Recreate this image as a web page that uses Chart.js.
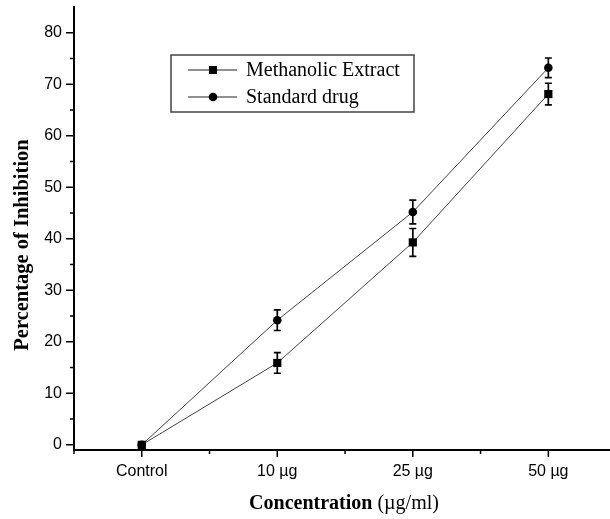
<!DOCTYPE html>
<html>
<head>
<meta charset="utf-8">
<script src="https://cdn.jsdelivr.net/npm/chart.js@4"></script>
<style>
  html, body { margin: 0; padding: 0; background: #fff; overflow: hidden; }
  canvas { display: block; }
</style>
</head>
<body>
<canvas id="c" width="610" height="519"></canvas>
<script>
// ---- data ----
const categories = ['Control', '10 µg', '25 µg', '50 µg'];
const methanolicValues = [0, 15.9, 39.3, 68.1];
const methanolicErrors = [0, 2.0, 2.7, 2.1];
const standardValues = [0, 24.2, 45.2, 73.2];
const standardErrors = [0, 2.0, 2.3, 1.9];
const yMajorTicks = [0, 10, 20, 30, 40, 50, 60, 70, 80];
const yMinorTicks = [5, 15, 25, 35, 45, 55, 65, 75];
const xMinorTicks = [-0.5, 0.5, 1.5, 2.5];
const seriesNames = ['Methanolic Extract', 'Standard drug'];

const toPoints = (vals) => vals.map((v, i) => ({ x: i, y: v }));

const errorBars = {
  id: 'errorBars',
  afterDatasetsDraw(chart) {
    const ctx = chart.ctx;
    const xs = chart.scales.x, ys = chart.scales.y;
    const sets = [[methanolicValues, methanolicErrors], [standardValues, standardErrors]];
    ctx.save();
    ctx.strokeStyle = '#000';
    ctx.lineWidth = 1.7;
    sets.forEach(([vals, errs]) => {
      vals.forEach((v, i) => {
        if (!errs[i]) return;
        const px = xs.getPixelForValue(i);
        const top = ys.getPixelForValue(v + errs[i]);
        const bot = ys.getPixelForValue(v - errs[i]);
        ctx.beginPath();
        ctx.moveTo(px, top); ctx.lineTo(px, bot);
        ctx.moveTo(px - 3.5, top); ctx.lineTo(px + 3.5, top);
        ctx.moveTo(px - 3.5, bot); ctx.lineTo(px + 3.5, bot);
        ctx.stroke();
      });
    });
    ctx.restore();
  }
};

const axisDecor = {
  id: 'axisDecor',
  afterDraw(chart) {
    const ctx = chart.ctx;
    const xs = chart.scales.x, ys = chart.scales.y;
    const a = chart.chartArea;
    ctx.save();
    ctx.strokeStyle = '#000';
    ctx.lineWidth = 1.5;
    ctx.beginPath();
    yMajorTicks.forEach(v => { const p = ys.getPixelForValue(v); ctx.moveTo(a.left - 8, p); ctx.lineTo(a.left, p); });
    yMinorTicks.forEach(v => { const p = ys.getPixelForValue(v); ctx.moveTo(a.left - 4, p); ctx.lineTo(a.left, p); });
    categories.forEach((c, i) => { const p = xs.getPixelForValue(i); ctx.moveTo(p, a.bottom); ctx.lineTo(p, a.bottom + 7); });
    xMinorTicks.forEach(v => { const p = xs.getPixelForValue(v); ctx.moveTo(p, a.bottom); ctx.lineTo(p, a.bottom + 4); });
    ctx.stroke();

    // axis titles
    ctx.fillStyle = '#000';
    ctx.textBaseline = 'alphabetic';
    const boldF = 'bold 20px "Liberation Serif", "Times New Roman", serif';
    const normF = '20px "Liberation Serif", "Times New Roman", serif';
    const t1 = 'Concentration', t2 = ' (µg/ml)';
    ctx.font = boldF; const w1 = ctx.measureText(t1).width;
    ctx.font = normF; const w2 = ctx.measureText(t2).width;
    const cx = (a.left + a.right) / 2 + 2;
    let sx = cx - (w1 + w2) / 2;
    ctx.font = boldF; ctx.textAlign = 'left'; ctx.fillText(t1, sx, 509);
    ctx.font = normF; ctx.fillText(t2, sx + w1, 509);

    ctx.save();
    ctx.translate(28, 245);
    ctx.rotate(-Math.PI / 2);
    ctx.font = 'bold 20.5px "Liberation Serif", "Times New Roman", serif';
    ctx.textAlign = 'center';
    ctx.fillText('Percentage of Inhibition', 0, 0);
    ctx.restore();

    // legend
    const lx = 171, ly = 55, lw = 243, lh = 57;
    ctx.strokeStyle = '#444';
    ctx.lineWidth = 1.5;
    ctx.strokeRect(lx, ly, lw, lh);
    const rows = [ly + 15, ly + 42];
    const styles = [chart.data.datasets[0], chart.data.datasets[1]];
    rows.forEach((ry, k) => {
      ctx.strokeStyle = '#222';
      ctx.lineWidth = 1;
      ctx.beginPath(); ctx.moveTo(lx + 17, ry); ctx.lineTo(lx + 66, ry); ctx.stroke();
      ctx.fillStyle = '#000';
      if (styles[k].pointStyle === 'rect') {
        ctx.fillRect(lx + 42 - 4, ry - 4, 8, 8);
      } else {
        ctx.beginPath(); ctx.arc(lx + 42, ry, 4.3, 0, Math.PI * 2); ctx.fill();
      }
      ctx.font = normF;
      ctx.textAlign = 'left';
      ctx.textBaseline = 'middle';
      ctx.fillText(seriesNames[k], lx + 75, ry + 1);
    });
    ctx.restore();
  }
};

new Chart(document.getElementById('c'), {
  type: 'line',
  data: {
    datasets: [
      {
        label: seriesNames[0],
        data: toPoints(methanolicValues),
        borderColor: '#444',
        borderWidth: 1,
        pointStyle: 'rect',
        pointRadius: 5.8,
        pointBackgroundColor: '#000',
        pointBorderColor: '#000',
        pointBorderWidth: 0,
        clip: false
      },
      {
        label: seriesNames[1],
        data: toPoints(standardValues),
        borderColor: '#444',
        borderWidth: 1,
        pointStyle: 'circle',
        pointRadius: 4.3,
        pointBackgroundColor: '#000',
        pointBorderColor: '#000',
        pointBorderWidth: 0,
        clip: false
      }
    ]
  },
  options: {
    responsive: false,
    animation: false,
    events: [],
    layout: { autoPadding: false, padding: { top: 7, left: 0, right: 0, bottom: 0 } },
    plugins: { legend: { display: false }, tooltip: { enabled: false } },
    scales: {
      x: {
        type: 'linear',
        min: -0.5,
        max: 3.455,
        afterBuildTicks: (s) => { s.ticks = categories.map((c, i) => ({ value: i })); },
        afterFit: (s) => { s.height = 69; s.paddingLeft = 0; s.paddingRight = 0; },
        ticks: {
          callback: (v) => categories[v],
          color: '#000',
          padding: 12,
          maxRotation: 0,
          autoSkip: false,
          font: { family: '"Liberation Sans", Arial, sans-serif', size: 16 }
        },
        grid: { display: false, drawTicks: false },
        border: { display: true, color: '#000', width: 2 }
      },
      y: {
        type: 'linear',
        min: -1,
        max: 85,
        afterBuildTicks: (s) => { s.ticks = yMajorTicks.map(v => ({ value: v })); },
        afterFit: (s) => { s.width = 74; s.paddingTop = 0; s.paddingBottom = 0; },
        ticks: {
          color: '#000',
          padding: 12,
          font: { family: '"Liberation Sans", Arial, sans-serif', size: 16 }
        },
        grid: { display: false, drawTicks: false },
        border: { display: true, color: '#000', width: 2 }
      }
    }
  },
  plugins: [errorBars, axisDecor]
});
</script>
</body>
</html>
